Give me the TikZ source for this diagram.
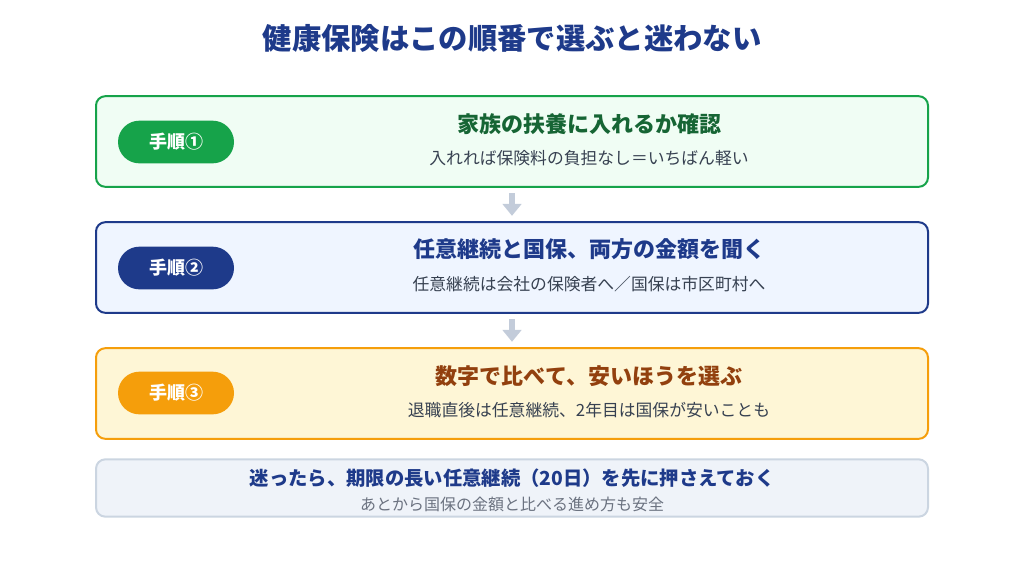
\documentclass[tikz,border=0pt]{standalone}
\usepackage{fontspec}
\setmainfont{Noto Sans CJK JP}
\usepackage{xcolor}
\usetikzlibrary{arrows.meta}

\definecolor{navy}{HTML}{1E3A8A}
\definecolor{grn}{HTML}{16A34A}
\definecolor{grnbg}{HTML}{F0FDF4}
\definecolor{grnhd}{HTML}{166534}
\definecolor{bluebg}{HTML}{EFF5FF}
\definecolor{org}{HTML}{F59E0B}
\definecolor{orgbg}{HTML}{FEF6D6}
\definecolor{brn}{HTML}{92400E}
\definecolor{slate}{HTML}{CBD5E1}
\definecolor{slatebg}{HTML}{EFF3F9}
\definecolor{txt}{HTML}{374151}
\definecolor{note}{HTML}{6B7280}
\definecolor{arr}{HTML}{C3CCDA}

\begin{document}
\begin{tikzpicture}[x=0.75pt, y=-0.75pt,
  stepcard/.style={rectangle, rounded corners=7pt, line width=1.5pt, minimum width=624pt, minimum height=68pt},
  pill/.style={rectangle, rounded corners=16pt, minimum width=87pt, minimum height=32pt, text=white, font=\bfseries\fontsize{13.5}{15}\selectfont},
  head/.style={font=\bfseries\fontsize{16.5}{19}\selectfont},
  sub/.style={text=txt, font=\fontsize{12.6}{15}\selectfont},
  down/.style={draw=arr, line width=4.5pt, -{Triangle[length=9pt, width=14pt]}}]
\useasboundingbox (0,0) rectangle (1024,568);

\node[navy, font=\bfseries\fontsize{22}{26}\selectfont] (title) at (512,38) {健康保険はこの順番で選ぶと迷わない};

% step 1
\node[stepcard, draw=grn, fill=grnbg] (s1) at (512,141.5) {};
\node[pill, fill=grn] (p1) at (176,142) {手順①};
\node[head, text=grnhd] (h1) at (589,124) {家族の扶養に入れるか確認};
\node[sub] (t1) at (589,158) {入れれば保険料の負担なし＝いちばん軽い};

% step 2
\node[stepcard, draw=navy, fill=bluebg] (s2) at (512,267.5) {};
\node[pill, fill=navy] (p2) at (176,268) {手順②};
\node[head, text=navy] (h2) at (589,249) {任意継続と国保、両方の金額を聞く};
\node[sub] (t2) at (589,284) {任意継続は会社の保険者へ／国保は市区町村へ};

% step 3
\node[stepcard, draw=org, fill=orgbg] (s3) at (512,393.5) {};
\node[pill, fill=org] (p3) at (176,393) {手順③};
\node[head, text=brn] (h3) at (589,376) {数字で比べて、安いほうを選ぶ};
\node[sub] (t3) at (589,410) {退職直後は任意継続、2年目は国保が安いことも};

% note
\node[stepcard, draw=slate, fill=slatebg, minimum height=43pt] (s4) at (512,488) {};
\node[text=navy, font=\bfseries\fontsize{14.5}{17}\selectfont] (h4) at (512,478) {迷ったら、期限の長い任意継続（20日）を先に押さえておく};
\node[text=note, font=\fontsize{12}{14}\selectfont] (t4) at (512,504) {あとから国保の金額と比べる進め方も安全};

\draw[down, shorten <=4pt, shorten >=4pt] (s1.south) -- (s2.north);
\draw[down, shorten <=4pt, shorten >=4pt] (s2.south) -- (s3.north);
\end{tikzpicture}
\end{document}
